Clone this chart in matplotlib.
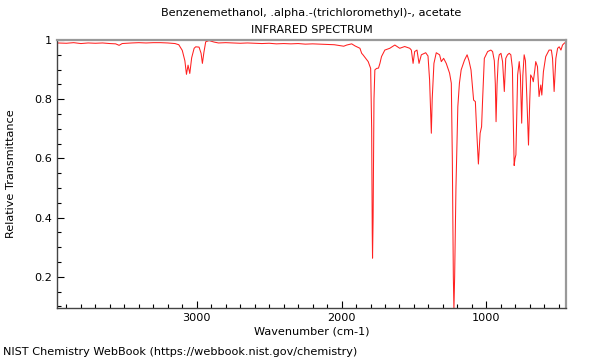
import matplotlib
matplotlib.use("Agg")
import matplotlib.pyplot as plt
from matplotlib.ticker import MultipleLocator, FuncFormatter

title_line1 = "Benzenemethanol, .alpha.-(trichloromethyl)-, acetate"
title_line2 = "INFRARED SPECTRUM"
x_label = "Wavenumber (cm-1)"
y_label = "Relative Transmittance"
footer = "NIST Chemistry WebBook (https://webbook.nist.gov/chemistry)"

wavenumber = [
    3965, 3900, 3850, 3800, 3750, 3700, 3650, 3600, 3560, 3536, 3515, 3450, 3400,
    3350, 3300, 3250, 3200, 3150, 3124, 3100, 3082, 3071, 3060, 3048, 3035, 3018,
    3007, 2984, 2970, 2961, 2950, 2938, 2915, 2880, 2850, 2800, 2750, 2700, 2650,
    2600, 2550, 2500, 2450, 2400, 2350, 2300, 2250, 2200, 2150, 2100, 2050, 2010,
    1985, 1964, 1930, 1907, 1873, 1861, 1852, 1816, 1799, 1792, 1788, 1786, 1782,
    1776, 1770, 1758, 1745, 1735, 1724, 1701, 1667, 1632, 1598, 1564, 1529, 1518,
    1506, 1495, 1479, 1465, 1449, 1419, 1403, 1392, 1384, 1380, 1374, 1362, 1346,
    1323, 1311, 1295, 1277, 1254, 1242, 1235, 1228, 1224, 1219, 1210, 1197, 1186,
    1174, 1151, 1133, 1120, 1106, 1088, 1076, 1067, 1055, 1043, 1033, 1026, 1014,
    991, 969, 957, 945, 938, 933, 926, 918, 911, 899, 888, 880, 876, 871, 866,
    854, 842, 831, 820, 815, 808, 802, 796, 790, 784, 773, 765, 756, 748, 739,
    730, 720, 709, 700, 694, 682, 676, 665, 659, 647, 636, 624, 617, 606, 590,
    567, 551, 543, 532, 520, 508, 497, 485, 474, 462, 450,
]
transmittance = [
    0.990, 0.989, 0.991, 0.988, 0.990, 0.989, 0.990, 0.988, 0.987, 0.982, 0.988, 0.990, 0.991,
    0.990, 0.991, 0.991, 0.990, 0.988, 0.984, 0.965, 0.930, 0.884, 0.915, 0.887, 0.940, 0.972,
    0.977, 0.976, 0.955, 0.921, 0.960, 0.994, 0.998, 0.993, 0.990, 0.991, 0.990, 0.989, 0.990,
    0.989, 0.988, 0.989, 0.987, 0.988, 0.987, 0.988, 0.986, 0.987, 0.986, 0.985, 0.984, 0.981,
    0.979, 0.983, 0.987, 0.980, 0.972, 0.955, 0.950, 0.927, 0.904, 0.700, 0.350, 0.263, 0.400,
    0.800, 0.899, 0.904, 0.905, 0.921, 0.944, 0.966, 0.972, 0.983, 0.972, 0.978, 0.972, 0.966,
    0.921, 0.961, 0.966, 0.921, 0.950, 0.957, 0.946, 0.865, 0.750, 0.685, 0.800, 0.921, 0.957,
    0.950, 0.927, 0.938, 0.921, 0.888, 0.854, 0.600, 0.200, 0.090, 0.200, 0.500, 0.775, 0.854,
    0.899, 0.932, 0.950, 0.930, 0.899, 0.797, 0.792, 0.696, 0.581, 0.685, 0.707, 0.797, 0.938,
    0.961, 0.966, 0.961, 0.930, 0.850, 0.724, 0.850, 0.930, 0.950, 0.955, 0.927, 0.860, 0.826, 0.880, 0.938,
    0.950, 0.955, 0.950, 0.904, 0.750, 0.576, 0.600, 0.612, 0.750, 0.882, 0.927, 0.880, 0.719, 0.880, 0.950,
    0.930, 0.800, 0.645, 0.800, 0.882, 0.871, 0.859, 0.900, 0.927, 0.910, 0.809, 0.848, 0.814, 0.893, 0.944,
    0.966, 0.966, 0.938, 0.826, 0.938, 0.972, 0.977, 0.966, 0.983, 0.989, 0.993,
]

x_range = (3965, 450)
y_range = (0.0946, 1.0)
fs = 8.1

fig = plt.figure(figsize=(6, 3.6), dpi=100)
ax = fig.add_axes([57 / 600, 1 - 308 / 360, (566 - 57) / 600, (308 - 40) / 360])
ax.plot(wavenumber, transmittance, color="#ff2020", lw=0.75)
ax.set_xlim(*x_range)
ax.set_ylim(*y_range)

ax.xaxis.set_major_locator(MultipleLocator(1000))
ax.xaxis.set_minor_locator(MultipleLocator(100))
ax.yaxis.set_major_locator(MultipleLocator(0.2))
ax.yaxis.set_minor_locator(MultipleLocator(0.05))
ax.yaxis.set_major_formatter(FuncFormatter(lambda v, p: "1" if abs(v - 1) < 1e-9 else f"{v:.1f}"))
ax.tick_params(which="both", direction="in", top=False, right=False, labelsize=fs, colors="#000000")
ax.tick_params(which="major", length=5, width=0.8)
ax.tick_params(which="minor", length=3, width=0.8)

for side in ("top", "right"):
    ax.spines[side].set_color("#999999")
    ax.spines[side].set_linewidth(1.6)
for side in ("left", "bottom"):
    ax.spines[side].set_color("#444444")
    ax.spines[side].set_linewidth(1.0)

ax.set_xlabel(x_label, fontsize=fs)
ax.set_ylabel(y_label, fontsize=fs)
ax.xaxis.set_label_coords(0.5, -0.070)
ax.yaxis.set_label_coords(-0.080, 0.5)
fig.text(311.5 / 600, 1 - 13 / 360, title_line1, ha="center", va="center", fontsize=fs)
fig.text(311.5 / 600, 1 - 30 / 360, title_line2, ha="center", va="center", fontsize=fs)
fig.text(3 / 600, 1 - 352 / 360, footer, ha="left", va="center", fontsize=fs)

fig.savefig("out.png", dpi=100)
